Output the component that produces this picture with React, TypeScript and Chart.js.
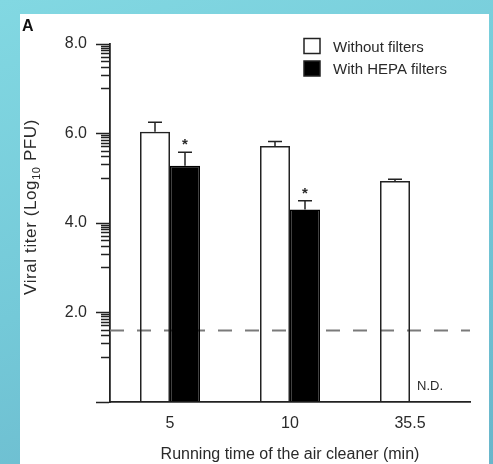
import React, { useEffect, useRef } from 'react';
import { Chart, registerables } from 'chart.js';

Chart.register(...registerables);

// ---- data ----
const categories = ['5', '10', '35.5'];
const seriesLabels = ['Without filters', 'With HEPA filters'];
const withoutFilters = [6.04, 5.72, 4.94];
const withoutFiltersErr = [0.21, 0.1, 0.04];
const withHepa: (number | null)[] = [5.28, 4.3, null];
const withHepaErr: (number | null)[] = [0.3, 0.2, null];
const withoutMarks = ['', '', ''];
const hepaMarks = ['*', '*', 'N.D.'];
const detectionLimit = 1.6;
const yMajorTicks = [0, 2, 4, 6, 8];
const yLabelValues = [2, 4, 6, 8];
const yTickLabels = ['2.0', '4.0', '6.0', '8.0'];
const yMinorDecades = [1, 3, 5, 7];
const yMinorSteps = [1, 2, 3, 4, 5, 6, 7, 8, 9];
const xTitle = 'Running time of the air cleaner (min)';
const yTitleParts = ['Viral titer (Log', '10', ' PFU)'];
const panelLetter = 'A';

const FONT = '"Liberation Sans", Arial, Helvetica, sans-serif';
const TEXT = '#2a2a2a';
const LINE = '#222';

const isMajor = (v: number) => yMajorTicks.some((m) => Math.abs(m - v) < 1e-9);

const decorPlugin = {
  id: 'decor',
  beforeDatasetsDraw(chart: any) {
    const { ctx, chartArea, scales } = chart;
    const y = scales.y;
    const yy = y.getPixelForValue(detectionLimit);
    ctx.save();
    ctx.strokeStyle = '#7a7a7a';
    ctx.lineWidth = 2;
    ctx.setLineDash([14, 13]);
    ctx.beginPath();
    ctx.moveTo(chartArea.left, yy);
    ctx.lineTo(chartArea.right, yy);
    ctx.stroke();
    ctx.restore();
  },
  afterDatasetsDraw(chart: any) {
    const { ctx, scales } = chart;
    const y = scales.y;
    const errs = [withoutFiltersErr, withHepaErr];
    const vals = [withoutFilters, withHepa];
    const marks = [withoutMarks, hepaMarks];
    ctx.save();
    for (let d = 0; d < 2; d++) {
      const meta = chart.getDatasetMeta(d);
      meta.data.forEach((el: any, i: number) => {
        const v = vals[d][i];
        const e = errs[d][i];
        const mark = marks[d][i];
        if (v == null) {
          if (mark) {
            ctx.fillStyle = TEXT;
            ctx.font = `13px ${FONT}`;
            ctx.textAlign = 'left';
            ctx.textBaseline = 'middle';
            ctx.fillText(mark, el.x - 8, y.getPixelForValue(0.35));
          }
          return;
        }
        const yTop = y.getPixelForValue(v + (e || 0));
        const yBar = y.getPixelForValue(v);
        ctx.strokeStyle = LINE;
        ctx.lineWidth = 1.5;
        ctx.beginPath();
        ctx.moveTo(el.x, yBar);
        ctx.lineTo(el.x, yTop);
        ctx.moveTo(el.x - 7, yTop);
        ctx.lineTo(el.x + 7, yTop);
        ctx.stroke();
        if (mark) {
          ctx.fillStyle = TEXT;
          ctx.font = `bold 15px ${FONT}`;
          ctx.textAlign = 'center';
          ctx.textBaseline = 'middle';
          ctx.fillText(mark, el.x, yTop - 7);
        }
      });
    }
    ctx.restore();
  },
  afterDraw(chart: any) {
    const { ctx } = chart;
    ctx.save();
    // panel letter
    ctx.fillStyle = '#111';
    ctx.font = `bold 16px ${FONT}`;
    ctx.textAlign = 'left';
    ctx.textBaseline = 'alphabetic';
    ctx.fillText(panelLetter, 22, 31);

    // legend
    const fills = ['#ffffff', '#000000'];
    const boxX = 304;
    const boxY = [38.5, 61];
    for (let i = 0; i < 2; i++) {
      ctx.fillStyle = fills[i];
      ctx.fillRect(boxX, boxY[i], 16, 15);
      ctx.strokeStyle = LINE;
      ctx.lineWidth = 1.5;
      ctx.strokeRect(boxX, boxY[i], 16, 15);
      ctx.fillStyle = TEXT;
      ctx.font = `15px ${FONT}`;
      ctx.textAlign = 'left';
      ctx.textBaseline = 'middle';
      ctx.fillText(chart.data.datasets[i].label, 333, boxY[i] + 9);
    }

    // y title with subscript
    ctx.translate(30, 207);
    ctx.rotate(-Math.PI / 2);
    const fonts = [`17px ${FONT}`, `11px ${FONT}`, `17px ${FONT}`];
    const dys = [0, 4, 0];
    try { (ctx as any).letterSpacing = '0.6px'; } catch (e) {}
    let total = 0;
    const widths = yTitleParts.map((t, i) => {
      ctx.font = fonts[i];
      const w = ctx.measureText(t).width;
      total += w;
      return w;
    });
    let x = -total / 2;
    ctx.fillStyle = TEXT;
    ctx.textAlign = 'left';
    ctx.textBaseline = 'alphabetic';
    yTitleParts.forEach((t, i) => {
      ctx.font = fonts[i];
      ctx.fillText(t, x, 6 + dys[i]);
      x += widths[i];
    });
    ctx.restore();
  },
};

export default function App() {
  const ref = useRef<HTMLCanvasElement | null>(null);

  useEffect(() => {
    if (!ref.current) return;
    const chart = new Chart(ref.current, {
      type: 'bar',
      data: {
        labels: categories,
        datasets: [
          {
            label: seriesLabels[0],
            data: withoutFilters,
            backgroundColor: 'rgba(255,255,255,0)',
            borderColor: LINE,
            borderWidth: 1.5,
            categoryPercentage: 0.5,
            barPercentage: 1.0,
          },
          {
            label: seriesLabels[1],
            data: withHepa,
            backgroundColor: '#000000',
            borderColor: '#000000',
            borderWidth: 1.5,
            categoryPercentage: 0.5,
            barPercentage: 1.0,
          },
        ],
      },
      options: {
        animation: false,
        responsive: true,
        maintainAspectRatio: false,
        events: [],
        layout: { padding: { left: 0, right: 23, top: 44, bottom: 0 } },
        plugins: {
          legend: { display: false },
          tooltip: { enabled: false },
          title: { display: false },
        },
        scales: {
          x: {
            type: 'category',
            grid: { display: true, drawOnChartArea: false, drawTicks: false },
            border: { display: true, color: LINE, width: 1.8 },
            ticks: {
              color: TEXT,
              font: { family: FONT, size: 16 },
              padding: 12,
            },
            title: {
              display: true,
              text: xTitle,
              color: TEXT,
              font: { family: FONT, size: 16 },
              padding: 0,
            },
            afterFit: (s: any) => {
              s.height = 62;
            },
          },
          y: {
            type: 'linear',
            min: 0,
            max: 8,
            afterBuildTicks: (s: any) => {
              const vals: number[] = [...yMajorTicks];
              yMinorDecades.forEach((n) => yMinorSteps.forEach((k) => vals.push(n + Math.log10(k))));
              vals.sort((a, b) => a - b);
              s.ticks = vals.map((v) => ({ value: v }));
            },
            afterFit: (s: any) => {
              s.width = 110;
            },
            grid: {
              display: true,
              drawOnChartArea: false,
              drawTicks: true,
              tickLength: 14,
              tickWidth: 1.5,
              tickColor: LINE,
              tickBorderDash: (ctx: any) => (ctx.tick && isMajor(ctx.tick.value) ? [] : [0, 5, 30]),
            },
            border: { display: true, color: LINE, width: 1.8 },
            ticks: {
              autoSkip: false,
              color: TEXT,
              font: { family: FONT, size: 16 },
              padding: 9,
              callback: (value: any) => {
                const idx = yLabelValues.findIndex((v) => Math.abs(v - Number(value)) < 1e-9);
                return idx >= 0 ? yTickLabels[idx] : '';
              },
            },
          },
        },
      },
      plugins: [decorPlugin],
    });
    return () => chart.destroy();
  }, []);

  return (
    <div
      style={{
        position: 'absolute',
        left: 0,
        top: 0,
        width: 493,
        height: 464,
        overflow: 'hidden',
        background: 'linear-gradient(160deg, #82d8e2 0%, #74c9d8 50%, #69b6cb 100%)',
      }}
    >
      <div
        style={{
          position: 'absolute',
          left: 20,
          top: 14,
          width: 469,
          height: 450,
          background: '#ffffff',
        }}
      />
      <div style={{ position: 'absolute', left: 0, top: 0, width: 493, height: 464 }}>
        <canvas ref={ref} />
      </div>
    </div>
  );
}
